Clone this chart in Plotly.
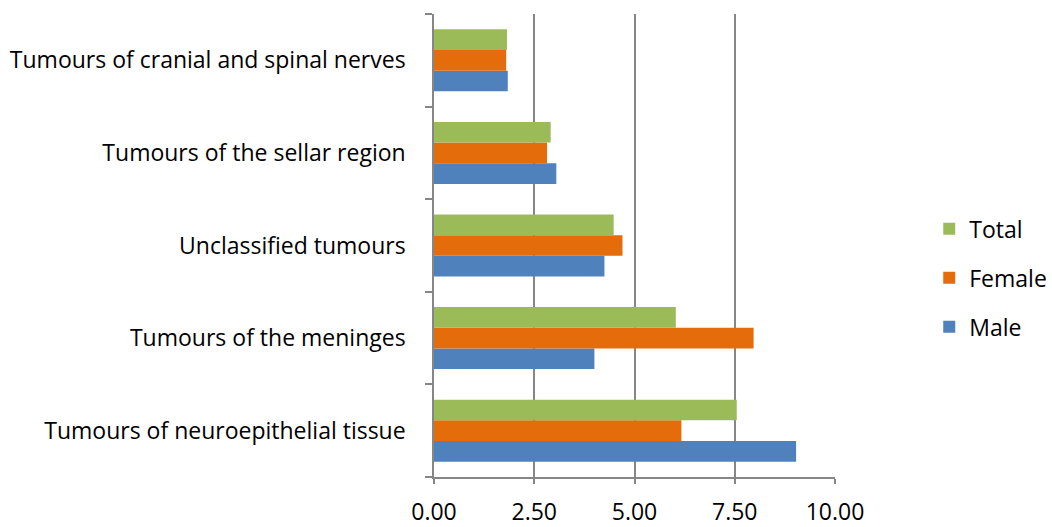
import plotly.graph_objects as go

categories = [
    "Tumours of neuroepithelial tissue",
    "Tumours of the meninges",
    "Unclassified tumours",
    "Tumours of the sellar region",
    "Tumours of cranial and spinal nerves",
]
male = [9.03, 4.00, 4.25, 3.05, 1.84]
female = [6.17, 7.97, 4.70, 2.82, 1.80]
total = [7.55, 6.03, 4.48, 2.91, 1.82]
x_ticks = [0, 2.5, 5, 7.5, 10]
x_tick_labels = ["0.00", "2.50", "5.00", "7.50", "10.00"]

FONT = "Open Sans, sans-serif"
GRID = "#868686"

fig = go.Figure()
for name, vals, col, rank in [("Male", male, "#4f81bd", 3),
                              ("Female", female, "#e46c0a", 2),
                              ("Total", total, "#9bbb59", 1)]:
    fig.add_trace(go.Bar(y=categories, x=vals, name=name, orientation="h",
                         legendgroup=name, legendrank=rank,
                         marker=dict(color=col, line=dict(width=0))))

fig.update_layout(
    width=1052, height=527,
    margin=dict(l=434, r=217, t=14, b=50, autoexpand=False),
    paper_bgcolor="white", plot_bgcolor="white",
    barmode="group", bargap=0.33, bargroupgap=0,
    font=dict(family=FONT, size=23, color="#000000"),
    legend=dict(traceorder="grouped", x=1.235, y=0.43, xanchor="left", yanchor="middle",
                font=dict(size=23), tracegroupgap=16, itemwidth=30),
    showlegend=True,
)
fig.update_xaxes(range=[0, 10], tickvals=x_ticks, ticktext=x_tick_labels,
                 showgrid=True, gridcolor=GRID, gridwidth=1.5,
                 showline=True, linecolor=GRID, linewidth=1.5,
                 ticks="outside", ticklen=5, tickcolor=GRID, tickwidth=1.5,
                 zeroline=False, automargin=False, ticklabelstandoff=9)
fig.update_yaxes(type="category", categoryorder="array", categoryarray=categories,
                 showline=True, linecolor=GRID, linewidth=1.5,
                 ticks="outside", ticklen=7, tickcolor=GRID, tickwidth=1.5,
                 tickson="boundaries", showgrid=False, automargin=False,
                 ticklabelstandoff=22)

fig.write_html("out.html", config={"displayModeBar": False},
               post_script="document.body.style.margin='0';document.body.style.overflow='hidden';")
